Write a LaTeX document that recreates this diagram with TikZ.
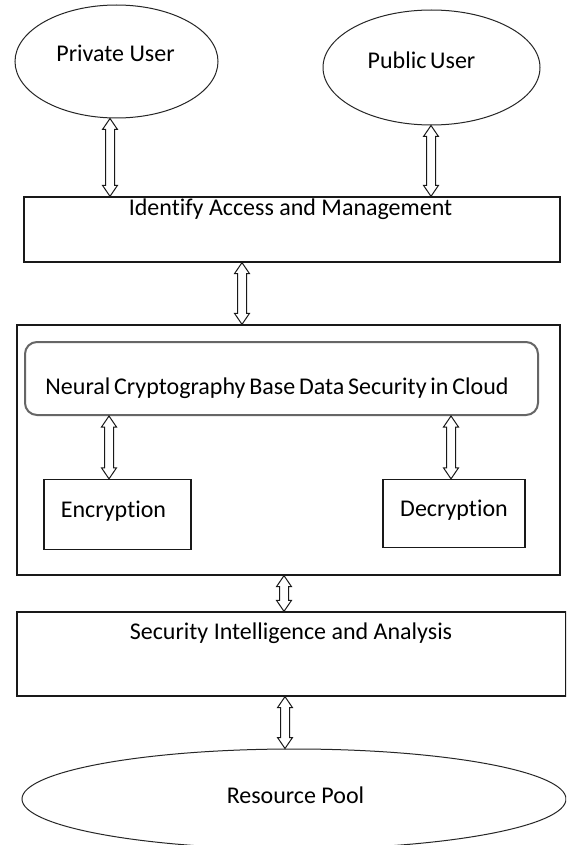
\documentclass[tikz,border=0pt]{standalone}
\usepackage{fontspec}
\setmainfont{Carlito}[Ligatures=NoCommon]
\newfontfamily\tightspaced{Carlito}[Ligatures=NoCommon, WordSpace=0.7]
\usetikzlibrary{shapes.geometric,calc}

\tikzset{
  x=1pt, y=-1pt,
  txt/.style={font=\fontsize{24}{28}\selectfont, text=black, inner sep=0pt,
              text height=0.68em, text depth=0.2em},
  oval/.style={ellipse, draw=black!85, line width=1pt, inner sep=0pt},
  plainbox/.style={rectangle, draw=black!90, line width=1.3pt, inner sep=0pt},
  roundbox/.style={rectangle, rounded corners=12pt, draw=black!60, line width=2pt, inner sep=0pt},
  % hollow double-headed vertical arrow, drawn from the upper end to the lower end
  dbl/.style={draw=black!90, line width=1pt, fill=white, line join=miter,
    to path={let \p1=(\tikztostart), \p2=(\tikztotarget) in
      (\x1,\y1) -- (\x1+7.5pt,\y1-11pt) -- (\x1+4.5pt,\y1-11pt)
      -- (\x1+4.5pt,\y2+11pt) -- (\x1+7.5pt,\y2+11pt) -- (\x1,\y2)
      -- (\x1-7.5pt,\y2+11pt) -- (\x1-4.5pt,\y2+11pt)
      -- (\x1-4.5pt,\y1-11pt) -- (\x1-7.5pt,\y1-11pt) -- cycle}}
}

\begin{document}
\begin{tikzpicture}
\clip (0,0) rectangle (566,845);
\fill[white] (0,0) rectangle (566,845);

% users
\node[oval, minimum width=203pt, minimum height=113pt,
      label={[txt, name=pul, xshift=-1pt, yshift=2pt]center:Private User}] (pu) at (116.5,61.5) {};
\node[oval, minimum width=217pt, minimum height=115pt,
      label={[txt, name=bul, xshift=-10pt, yshift=1pt]center:\tightspaced Public User}] (bu) at (431.5,67.5) {};

% identity and access layer
\node[plainbox, minimum width=536pt, minimum height=65pt,
      label={[txt, name=iaml, xshift=-1.5pt, yshift=16pt]center:Identify Access and Management}] (iam) at (292,229.5) {};

% neural cryptography block
\node[plainbox, minimum width=543pt, minimum height=250pt] (outer) at (288.5,450) {};
\node[roundbox, minimum width=513pt, minimum height=73pt,
      label={[txt, name=ncl, xshift=-4.5pt, yshift=-13.5pt]center:\tightspaced Neural Cryptography Base Data Security in Cloud}] (nc) at (281.5,378.5) {};
\node[plainbox, minimum width=147pt, minimum height=70pt,
      label={[txt, name=encl, xshift=-4pt, yshift=-1pt]center:Encryption}] (enc) at (117.5,514.5) {};
\node[plainbox, minimum width=142pt, minimum height=68pt,
      label={[txt, name=decl, yshift=-1pt]center:Decryption}] (dec) at (454,513.5) {};

% analysis layer
\node[plainbox, minimum width=549pt, minimum height=84pt,
      label={[txt, name=sial, xshift=-0.5pt, yshift=17pt]center:Security Intelligence and Analysis}] (sia) at (291.5,654) {};

% resource pool
\node[oval, minimum width=544pt, minimum height=100pt,
      label={[txt, name=rpl, xshift=1.5pt, yshift=-2.5pt]center:Resource Pool}] (rp) at (294,799) {};

% connectors
\draw[dbl] ([xshift=-6.5pt]pu.south) to ([xshift=-6.5pt]pu.south |- iam.north);
\draw[dbl] ([xshift=-0.5pt]bu.south) to ([xshift=-0.5pt]bu.south |- iam.north);
\draw[dbl] ([xshift=-50pt]iam.south) to ([xshift=-50pt]iam.south |- outer.north);
\draw[dbl] ([xshift=-8.5pt]nc.south -| enc.north) to ([xshift=-8.5pt]enc.north);
\draw[dbl] ([xshift=-3pt]nc.south -| dec.north) to ([xshift=-3pt]dec.north);
\draw[dbl] ([xshift=-4.5pt]outer.south) to ([xshift=-4.5pt]outer.south |- sia.north);
\draw[dbl] ([xshift=-6.5pt]sia.south) to ([xshift=-6.5pt]sia.south |- rp.north);
\end{tikzpicture}
\end{document}
